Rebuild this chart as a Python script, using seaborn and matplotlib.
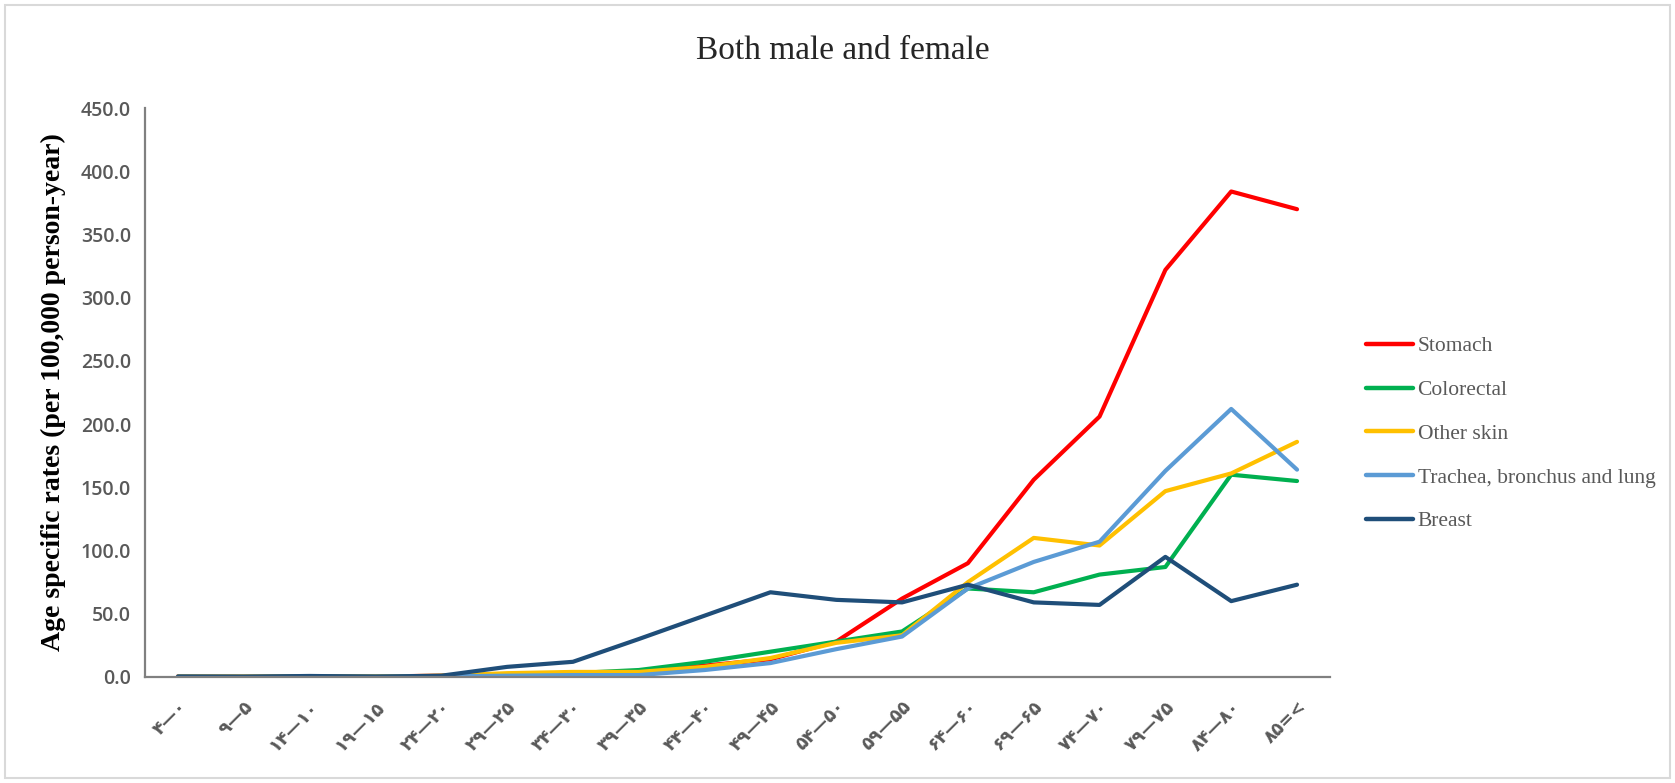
import numpy as np
import pandas as pd
import matplotlib
matplotlib.use("Agg")
import matplotlib.pyplot as plt
import matplotlib.patches as mpatches
import seaborn as sns

# ─── Data ──────────────────────────────────────────────────────
AGE_GROUPS = [
    "۴—۰", "۹—۵", "۱۴—۱۰", "۱۹—۱۵", "۲۴—۲۰", "۲۹—۲۵", "۳۴—۳۰", "۳۹—۳۵",
    "۴۴—۴۰", "۴۹—۴۵", "۵۴—۵۰", "۵۹—۵۵", "۶۴—۶۰", "۶۹—۶۵", "۷۴—۷۰",
    "۷۹—۷۵", "۸۴—۸۰", "۸۵=<",
]
stomach = [0.5, 0.3, 0.6, 0.4, 1.0, 1.5, 2.5, 3.5, 9, 14, 28, 62, 90, 156, 206, 322, 384, 370]
colorectal = [0.3, 0.2, 0.4, 0.3, 0.8, 2, 3, 5.5, 12, 20, 28, 36, 70, 67, 81, 87, 160, 155]
other_skin = [0.2, 0.2, 0.3, 0.3, 1, 3, 4, 4, 8, 15, 27, 33, 75, 110, 104, 147, 161, 186]
lung = [0.2, 0.1, 0.2, 0.2, 0.5, 1, 1.5, 1.5, 5.5, 11, 22, 32, 70, 91, 107, 163, 212, 164]
breast = [0.3, 0.2, 0.8, 0.3, 1, 8, 12, 30, 48.5, 67, 61, 59, 73, 59, 57, 95, 60, 73]

SERIES = {
    "Stomach": stomach,
    "Colorectal": colorectal,
    "Other skin": other_skin,
    "Trachea, bronchus and lung": lung,
    "Breast": breast,
}
COLORS = {
    "Stomach": "#FF0000",
    "Colorectal": "#00B050",
    "Other skin": "#FFC000",
    "Trachea, bronchus and lung": "#5B9BD5",
    "Breast": "#1F4E79",
}

df = pd.concat(
    [pd.DataFrame({"age": AGE_GROUPS, "rate": vals, "site": name})
     for name, vals in SERIES.items()],
    ignore_index=True,
)

# ─── Plot ──────────────────────────────────────────────────────
sns.set_style("white")
plt.rcParams["font.family"] = ["DejaVu Sans"]
SERIF = ["Liberation Serif", "DejaVu Serif"]

fig = plt.figure(figsize=(16.75, 7.83), dpi=100)
ax = fig.add_axes([0.0866, 0.1354, 0.7074, 0.7266])

sns.lineplot(
    data=df, x="age", y="rate", hue="site", hue_order=list(SERIES),
    palette=COLORS, linewidth=3.0, sort=False, ax=ax,
)

ax.set_xlim(-0.5, len(AGE_GROUPS) - 0.5)
ax.set_ylim(0, 450)
yt = np.arange(0, 451, 50)
ax.set_yticks(yt)
ax.set_yticklabels([f"{v:.1f}" for v in yt],
                   family=["Open Sans", "DejaVu Sans"], fontweight="semibold",
                   fontsize=14, color="#595959")
ax.set_xticks(range(len(AGE_GROUPS)))
ax.set_xticklabels(AGE_GROUPS, rotation=45, ha="right", rotation_mode="anchor",
                   family=["DejaVu Sans"], fontweight="bold", fontsize=13,
                   color="#595959")
ax.tick_params(axis="both", length=0)
ax.tick_params(axis="x", pad=15)
ax.tick_params(axis="y", pad=10)

for side in ["top", "right"]:
    ax.spines[side].set_visible(False)
for side in ["left", "bottom"]:
    ax.spines[side].set_color("#808080")
    ax.spines[side].set_linewidth(1.6)

ax.set_xlabel("")
ax.set_ylabel("Age specific rates (per 100,000 person-year)",
              family=SERIF, fontweight="bold", fontsize=20, color="black")
ax.yaxis.set_label_coords(-0.067, 0.5)

fig.text(0.503, 0.935, "Both male and female", ha="center", va="center",
         family=SERIF, fontsize=24)

leg = ax.legend(
    loc="upper left", bbox_to_anchor=(1.014, 0.633), frameon=False,
    prop={"family": SERIF, "size": 15.5},
    handlelength=2.2, handletextpad=0.2, labelspacing=1.1,
)
for t in leg.get_texts():
    t.set_color("#595959")
for h in leg.get_lines():
    h.set_linewidth(3.2)

# light grey chart frame
fig.patches.append(mpatches.Rectangle(
    (0.003, 0.006), 0.994, 0.988, transform=fig.transFigure,
    fill=False, edgecolor="#d9d9d9", linewidth=1.5,
))

fig.savefig("out.png", dpi=100)
